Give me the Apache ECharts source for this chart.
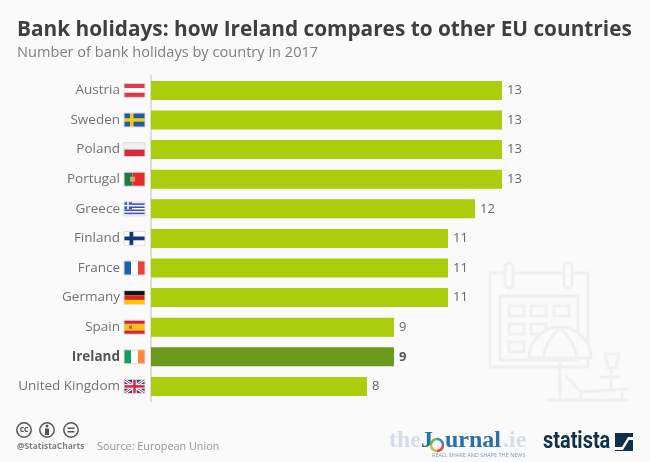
<!DOCTYPE html>
<html>
<head>
<meta charset="utf-8">
<style>
html,body{margin:0;padding:0;background:#fafafa;}
#main{width:650px;height:462px;}
</style>
<script src="https://cdn.jsdelivr.net/npm/echarts@6/dist/echarts.min.js"></script>
</head>
<body>
<div id="main"></div>
<script>
var countries = ['Austria','Sweden','Poland','Portugal','Greece','Finland','France','Germany','Spain','Ireland','United Kingdom'];
var holidays = [13,13,13,13,12,11,11,11,9,9,8];
var highlight = 'Ireland';

var font = '"Open Sans"';
var iconColor = '#f0f0f0';
var bg = '#fafafa';

// flag pieces, in a 21x14 box
function stripesH(cols){
	return cols.map(function(c,i){ return {x:0,y:i*14/cols.length,w:21,h:14/cols.length,c:c}; });
}
function stripesV(cols){
	return cols.map(function(c,i){ return {x:i*21/cols.length,y:0,w:21/cols.length,h:14,c:c}; });
}
var flags = {
	'Austria': stripesH(['#e0374a','#ffffff','#e0374a']),
	'Sweden': [{x:0,y:0,w:21,h:14,c:'#1f5f9e'},{x:6,y:0,w:3.5,h:14,c:'#f2c81e'},{x:0,y:5.2,w:21,h:3.5,c:'#f2c81e'}],
	'Poland': stripesH(['#f0f0f0','#d7263d']),
	'Portugal': [{x:0,y:0,w:8.5,h:14,c:'#1c7a45'},{x:8.5,y:0,w:12.5,h:14,c:'#e62b2b'},{x:6,y:4.5,w:5,h:5,c:'#d9a070'}],
	'Greece': [{x:0,y:0,w:21,h:14,c:'#ffffff'},{x:0,y:1.5,w:21,h:1.6,c:'#3d4fb5'},{x:0,y:4.6,w:21,h:1.6,c:'#3d4fb5'},{x:0,y:7.7,w:21,h:1.6,c:'#3d4fb5'},{x:0,y:10.8,w:21,h:1.6,c:'#3d4fb5'},{x:0,y:0,w:8,h:7.5,c:'#3d4fb5'},{x:3.2,y:0,w:1.6,h:7.5,c:'#ffffff'},{x:0,y:3,w:8,h:1.6,c:'#ffffff'}],
	'Finland': [{x:0,y:0,w:21,h:14,c:'#ffffff'},{x:5.5,y:0,w:3.8,h:14,c:'#17357a'},{x:0,y:5.1,w:21,h:3.8,c:'#17357a'}],
	'France': stripesV(['#1f5fb0','#ffffff','#ef4136']),
	'Germany': stripesH(['#111111','#dd2222','#fdc800']),
	'Spain': [{x:0,y:0,w:21,h:14,c:'#d4213d'},{x:0,y:3.5,w:21,h:7,c:'#f5bf1d'},{x:5,y:5.5,w:3,h:3,c:'#b5651d'}],
	'Ireland': stripesV(['#169b62','#ffffff','#ff883e']),
	'United Kingdom': [{x:0,y:0,w:21,h:14,c:'#2a3f8f'}]
};

function ukCross(x,y){
	var l = [
		{s:[x,y,x+21,y+14],w:3,c:'#ffffff'},{s:[x,y+14,x+21,y],w:3,c:'#ffffff'},
		{s:[x,y,x+21,y+14],w:1,c:'#d7263d'},{s:[x,y+14,x+21,y],w:1,c:'#d7263d'},
		{s:[x+10.5,y,x+10.5,y+14],w:4.5,c:'#ffffff'},{s:[x,y+7,x+21,y+7],w:4.5,c:'#ffffff'},
		{s:[x+10.5,y,x+10.5,y+14],w:2.5,c:'#d7263d'},{s:[x,y+7,x+21,y+7],w:2.5,c:'#d7263d'}
	];
	return l.map(function(o){
		return {type:'line',shape:{x1:o.s[0],y1:o.s[1],x2:o.s[2],y2:o.s[3]},style:{stroke:o.c,lineWidth:o.w}};
	});
}

function renderFlag(params,api){
	var name = countries[api.value(0)];
	var p = api.coord([0,api.value(0)]);
	var x = p[0]-27, y = p[1]-7;
	var kids = flags[name].map(function(r){
		return {type:'rect',shape:{x:x+r.x,y:y+r.y,width:r.w,height:r.h},style:{fill:r.c}};
	});
	if(name=='United Kingdom') kids = kids.concat(ukCross(x,y));
	kids.push({type:'rect',shape:{x:x,y:y,width:21,height:14},style:{fill:'none',stroke:'#dddddd',lineWidth:1}});
	return {type:'group',children:kids};
}

function line(x1,y1,x2,y2,w){
	return {type:'line',silent:true,z:0,shape:{x1:x1,y1:y1,x2:x2,y2:y2},style:{stroke:iconColor,lineWidth:w||3}};
}
function box(x,y,w,h,fill){
	return {type:'rect',silent:true,z:0,shape:{x:x,y:y,width:w,height:h},style:{fill:fill||'none',stroke:iconColor,lineWidth:3}};
}
function label(x,y,txt,size,color,weight,family,align){
	return {type:'text',silent:true,x:x,y:y,style:{text:txt,fontSize:size,fill:color,fontWeight:weight||'normal',fontFamily:family||font,textAlign:align||'left',textVerticalAlign:'middle'}};
}
function ccRing(cx){
	return {type:'circle',silent:true,shape:{cx:cx,cy:430,r:7.2},style:{fill:'none',stroke:'#555555',lineWidth:1.5}};
}
function ringArc(start,end,color){
	return {type:'arc',silent:true,z:5,shape:{cx:437,cy:445,r:6,startAngle:start,endAngle:end},style:{fill:'none',stroke:color,lineWidth:2.5}};
}

var calendarIcon = [
	box(490,273,98,94),
	box(500,296,78,64),
	{type:'rect',silent:true,z:0,shape:{x:505,y:263,width:8,height:25,r:4},style:{fill:bg,stroke:iconColor,lineWidth:3}},
	{type:'rect',silent:true,z:0,shape:{x:564,y:263,width:8,height:25,r:4},style:{fill:bg,stroke:iconColor,lineWidth:3}},
	box(509,306,15,10),box(531,306,15,10),box(554,306,15,10),
	box(509,324,15,10),box(531,324,15,10),
	box(509,342,15,10),
	{type:'sector',silent:true,z:0,shape:{cx:560,cy:358,r:31,r0:0,startAngle:Math.PI,endAngle:Math.PI*2},style:{fill:bg,stroke:iconColor,lineWidth:3}},
	{type:'bezierCurve',silent:true,z:0,shape:{x1:543,y1:358,cpx1:546,cpy1:340,x2:560,y2:328},style:{fill:'none',stroke:iconColor,lineWidth:3}},
	{type:'bezierCurve',silent:true,z:0,shape:{x1:577,y1:358,cpx1:574,cpy1:340,x2:560,y2:328},style:{fill:'none',stroke:iconColor,lineWidth:3}},
	line(560,358,560,400),
	line(547,400,628,400),
	line(566,376,581,392),
	line(581,392,628,389),
	line(581,392,581,400),
	line(622,389,622,400),
	line(600,377,620,377),
	line(611,369,611,389),
	{type:'polygon',silent:true,z:0,shape:{points:[[605,354],[619,354],[616,368],[608,368]]},style:{fill:'none',stroke:iconColor,lineWidth:3}}
];

var footer = [
	ccRing(24),ccRing(47),ccRing(71),
	label(24,430,'cc',8.5,'#555555','bold',font,'center'),
	{type:'circle',silent:true,shape:{cx:47,cy:426,r:1.5},style:{fill:'#555555'}},
	{type:'rect',silent:true,shape:{x:45,y:428.5,width:4,height:6.5},style:{fill:'#555555'}},
	{type:'rect',silent:true,shape:{x:67.5,y:427.5,width:7,height:1.5},style:{fill:'#555555'}},
	{type:'rect',silent:true,shape:{x:67.5,y:431,width:7,height:1.5},style:{fill:'#555555'}},
	label(17,447,'@StatistaCharts',8.4,'#808080','bold'),
	label(97,447,'Source: European Union',10.8,'#959595'),
	label(389,441,'the',24,'#d5dcec','bold','"Liberation Serif"'),
	label(421,441,'J',24,'#2a70a8','bold','"Liberation Serif"'),
	ringArc(0,Math.PI/2,'#e8483a'),
	ringArc(Math.PI/2,Math.PI,'#e8b33a'),
	ringArc(Math.PI,Math.PI*1.5,'#6dbb4a'),
	ringArc(Math.PI*1.5,Math.PI*2,'#2f8fc9'),
	label(445,441,'urnal',24,'#2a70a8','bold','"Liberation Serif"'),
	label(503,441,'.ie',24,'#d5dcec','bold','"Liberation Serif"'),
	label(432,455,'READ, SHARE AND SHAPE THE NEWS',5.5,'#6f9fc6','normal',font),
	{type:'text',silent:true,x:543,y:442,scaleX:0.83,style:{text:'statista',fontSize:24,fill:'#12304a',fontWeight:'bold',fontFamily:'Roboto',textAlign:'left',textVerticalAlign:'middle'}},
	{type:'rect',silent:true,shape:{x:615,y:433,width:18,height:18},style:{fill:'#12304a'}},
	{type:'polygon',silent:true,shape:{points:[[615,447],[622,447],[628,437],[633,437],[633,440],[629,440],[623,450],[615,450]]},style:{fill:bg}}
];

var chart = echarts.init(document.getElementById('main'),null,{renderer:'canvas'});
var option = {
	backgroundColor: bg,
	animation: false,
	title: [
		{text:'Bank holidays: how Ireland compares to other EU countries',left:17,top:20,padding:0,
			textStyle:{fontFamily:font,fontSize:20.8,fontWeight:'bold',color:'#3f3f3f'}},
		{text:'Number of bank holidays by country in 2017',left:17,top:45,padding:0,
			textStyle:{fontFamily:font,fontSize:14.6,fontWeight:'normal',color:'#7f7f7f'}}
	],
	grid: {left:151,top:75.6,width:486,height:325.6,containLabel:false},
	xAxis: {type:'value',min:0,max:18,show:false},
	yAxis: {
		type:'category',
		data:countries,
		inverse:true,
		axisTick:{show:false},
		axisLine:{show:true,lineStyle:{color:'#dddddd',width:2}},
		axisLabel:{
			margin:31,
			fontFamily:font,
			fontSize:13.5,
			color:'#737373',
			formatter:function(v){ return v==highlight ? '{b|'+v+'}' : v; },
			rich:{b:{fontFamily:font,fontSize:13.5,fontWeight:'bold',color:'#555555'}}
		}
	},
	series: [
		{
			type:'bar',
			barWidth:19,
			z:2,
			data:holidays.map(function(v,i){
				return {value:v,itemStyle:{color:countries[i]==highlight?'#6c9a1c':'#abcd0b'}};
			}),
			label:{
				show:true,
				position:'right',
				distance:5,
				fontFamily:font,
				fontSize:13,
				color:'#666666',
				formatter:function(p){
					return countries[p.dataIndex]==highlight ? '{b|'+p.value+'}' : p.value;
				},
				rich:{b:{fontFamily:font,fontSize:13,fontWeight:'bold',color:'#555555'}}
			}
		},
		{
			type:'custom',
			renderItem:renderFlag,
			clip:false,
			silent:true,
			z:3,
			encode:{y:0},
			data:countries.map(function(c,i){ return [i]; })
		}
	],
	graphic: calendarIcon.concat(footer)
};
chart.setOption(option);
</script>
</body>
</html>
